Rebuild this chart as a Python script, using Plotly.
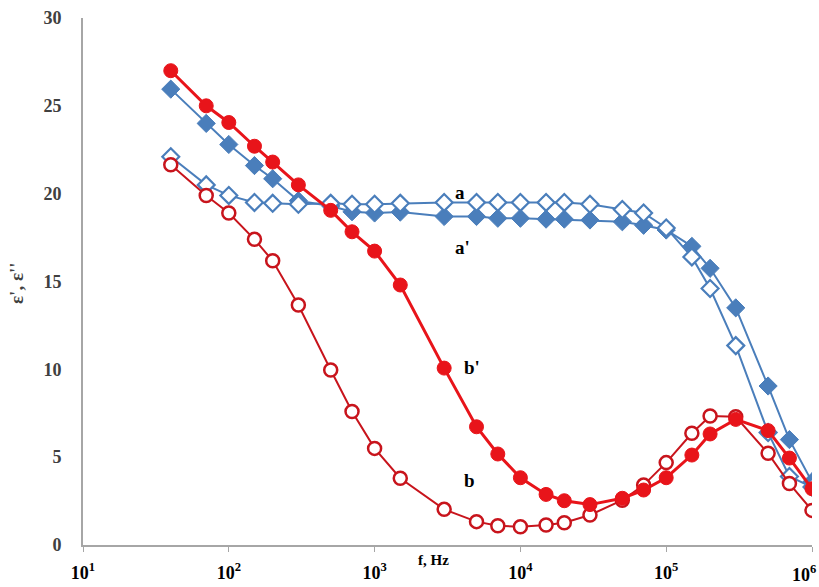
import plotly.graph_objects as go

freq = [40, 70, 100, 150, 200, 300, 500, 700, 1000, 1500, 3000, 5000, 7000,
        10000, 15000, 20000, 30000, 50000, 70000, 100000, 150000, 200000,
        300000, 500000, 700000, 1000000]

a_open = [22.1, 20.5, 19.9, 19.5, 19.45, 19.4, 19.45, 19.4, 19.4, 19.45, 19.5, 19.5, 19.5,
          19.5, 19.5, 19.5, 19.4, 19.1, 18.9, 18.05, 16.4, 14.6, 11.35, 6.4, 3.9, 3.3]
a_prime = [25.95, 24.0, 22.8, 21.6, 20.85, 19.6, 19.3, 18.97, 18.9, 18.95, 18.7, 18.7, 18.6,
           18.6, 18.55, 18.55, 18.5, 18.4, 18.2, 17.93, 17.0, 15.75, 13.5, 9.05, 6.0, 3.6]
b_prime = [27.0, 25.0, 24.05, 22.7, 21.8, 20.5, 19.05, 17.83, 16.73, 14.8, 10.07, 6.73, 5.18,
           3.83, 2.88, 2.52, 2.3, 2.66, 3.13, 3.83, 5.12, 6.32, 7.15, 6.51, 4.95, 3.2]
b_open = [21.65, 19.9, 18.9, 17.4, 16.18, 13.66, 9.96, 7.6, 5.5, 3.8, 2.03, 1.33, 1.1,
          1.04, 1.14, 1.27, 1.71, 2.55, 3.41, 4.69, 6.36, 7.34, 7.30, 5.22, 3.5, 1.97]

x_tickvals = [10, 100, 1000, 10000, 100000, 1000000]
x_ticktext = ["10<sup>1</sup>", "10<sup>2</sup>", "10<sup>3</sup>",
              "10<sup>4</sup>", "10<sup>5</sup>", ""]
last_tick_label = "10<sup>6</sup>"
y_tickvals = [0, 5, 10, 15, 20, 25, 30]

BLUE = "#4a7ebb"
RED = "#e8141a"
DRED = "#c8141c"
SERIF = "Liberation Serif, Times New Roman, serif"

fig = go.Figure()
fig.add_trace(go.Scatter(x=freq, y=a_prime, mode="lines+markers", name="a'",
                         line=dict(color=BLUE, width=2),
                         marker=dict(symbol="diamond", size=14, color=BLUE,
                                     line=dict(color=BLUE, width=1))))
fig.add_trace(go.Scatter(x=freq, y=a_open, mode="lines+markers", name="a",
                         line=dict(color=BLUE, width=2),
                         marker=dict(symbol="diamond", size=13, color="white",
                                     line=dict(color=BLUE, width=2.2))))
fig.add_trace(go.Scatter(x=freq, y=b_open, mode="lines+markers", name="b",
                         line=dict(color=DRED, width=2),
                         marker=dict(symbol="circle", size=13, color="white",
                                     line=dict(color=DRED, width=2.5))))
fig.add_trace(go.Scatter(x=freq, y=b_prime, mode="lines+markers", name="b'",
                         line=dict(color=RED, width=3),
                         marker=dict(symbol="circle", size=14, color=RED,
                                     line=dict(color=RED, width=1))))

ann_font = dict(family=SERIF, size=19, color="black")
fig.add_annotation(x=1 + (460 - 83) / 145.8, y=(545 - 192) / 17.57, xref="x", yref="y",
                   text="<b>a</b>", showarrow=False, font=ann_font)
fig.add_annotation(x=1 + (462 - 83) / 145.8, y=(545 - 247) / 17.57, xref="x", yref="y",
                   text="<b>a'</b>", showarrow=False, font=ann_font)
fig.add_annotation(x=1 + (472 - 83) / 145.8, y=(545 - 367) / 17.57, xref="x", yref="y",
                   text="<b>b'</b>", showarrow=False, font=ann_font)
fig.add_annotation(x=1 + (469 - 83) / 145.8, y=(545 - 480) / 17.57, xref="x", yref="y",
                   text="<b>b</b>", showarrow=False, font=ann_font)
fig.add_annotation(x=1 + (433 - 83) / 145.8, y=(545 - 570) / 527, xref="x", yref="paper",
                   text="<b>f, Hz</b>", showarrow=False,
                   font=dict(family=SERIF, size=15, color="black"))
fig.add_annotation(x=(818 - 83) / 729, y=(545 - 573) / 527, xref="paper", yref="paper",
                   xanchor="right", yanchor="middle",
                   text="<b>" + last_tick_label + "</b>", showarrow=False,
                   font=dict(family=SERIF, size=18, color="black"))
fig.add_annotation(x=(16 - 83) / 729, y=(545 - 283) / 527, xref="paper", yref="paper",
                   xanchor="center", yanchor="middle",
                   text="<b>ε', ε''</b>", showarrow=False, textangle=-90,
                   font=dict(family=SERIF, size=19, color="#404040"))

fig.update_layout(
    width=819, height=587,
    margin=dict(l=83, r=7, t=18, b=42),
    plot_bgcolor="white", paper_bgcolor="white",
    showlegend=False,
    xaxis=dict(type="log", range=[1, 6], tickvals=x_tickvals, ticktext=x_ticktext,
               automargin=False,
               showgrid=False, zeroline=False, showline=True, linecolor="#a6a6a6",
               linewidth=2, ticks="outside", ticklen=5, tickcolor="#a6a6a6",
               ticklabelstandoff=5,
               tickfont=dict(family=SERIF, size=18, color="black", weight="bold")),
    yaxis=dict(range=[0, 30], tickvals=y_tickvals, showgrid=False, zeroline=False,
               automargin=False,
               showline=True, linecolor="#a6a6a6", linewidth=2, ticks="",
               ticklabelstandoff=16,
               tickfont=dict(family=SERIF, size=18, color="#404040", weight="bold")),
)

fig.write_html("out.html", config={"displayModeBar": False},
               post_script="document.body.style.margin='0px';document.body.style.overflow='hidden';")
